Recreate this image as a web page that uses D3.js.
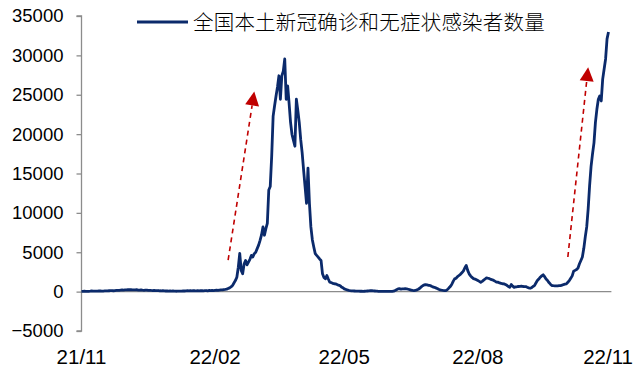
<!DOCTYPE html>
<html>
<head>
<meta charset="utf-8">
<script src="https://cdn.jsdelivr.net/npm/d3@7"></script>
<style>
  html, body { margin: 0; padding: 0; background: #fff; }
  svg { display: block; }
</style>
</head>
<body>
<svg id="chart" width="634" height="369"></svg>
<script>
// Daily local new infections (confirmed + asymptomatic), starting 2021-11-25
const startDate = "2021-11-25";
const dailyCases = [
  40, 35, 50, 30, 25, 45, 60, 80, 70, 55,
  60, 75, 90, 80, 65, 70, 85, 100, 95, 110,
  120, 130, 110, 140, 160, 150, 170, 190, 210, 200,
  230, 220, 250, 240, 260, 230, 210, 220, 240, 200,
  190, 210, 180, 170, 200, 190, 160, 170, 150, 140,
  160, 130, 120, 140, 110, 100, 120, 90, 80, 100,
  70, 90, 60, 80, 70, 50, 60, 75, 55, 70,
  90, 80, 100, 110, 90, 120, 100, 130, 110, 100,
  120, 90, 110, 130, 100, 120, 140, 110, 150, 130,
  160, 140, 170, 190, 160, 200, 230, 210, 250, 280,
  320, 400, 480, 600, 770, 1100, 1400, 1830, 3100, 4850,
  2700, 2260, 3500, 3960, 3400, 3750, 4100, 4600, 4400, 4820,
  5000, 5460, 5900, 6520, 7200, 8220, 7160, 8000, 8660, 12900,
  13340, 17180, 22290, 23600, 24850, 26000, 27410, 24430, 27410, 28000,
  29545, 24430, 26130, 23900, 21500, 19950, 19200, 18460, 24430, 23000,
  21450, 19300, 17610, 15400, 13340, 11220, 15690, 11220, 8220, 6600,
  5670, 4820, 4600, 4390, 4150, 3960, 2260, 1800, 1620, 2050,
  1600, 1190, 1150, 1050, 1000, 980, 900, 820, 770, 600,
  500, 350, 280, 220, 170, 130, 100, 90, 80, 70,
  60, 55, 50, 45, 40, 50, 60, 80, 100, 130,
  110, 90, 80, 70, 50, 40, 30, 25, 30, 20,
  35, 30, 25, 40, 30, 60, 150, 250, 350, 380,
  330, 360, 340, 370, 350, 300, 250, 200, 150, 130,
  150, 220, 300, 430, 600, 750, 850, 900, 870, 800,
  780, 700, 600, 550, 480, 400, 300, 220, 180, 150,
  130, 130, 250, 450, 640, 900, 1300, 1620, 1700, 1900,
  2050, 2200, 2400, 2600, 3000, 3330, 2700, 2260, 2000, 1800,
  1650, 1600, 1500, 1400, 1300, 1190, 1300, 1450, 1600, 1750,
  1700, 1650, 1550, 1500, 1400, 1300, 1200, 1190, 1100, 1050,
  1000, 980, 900, 800, 650, 550, 900, 700, 550, 600,
  620, 650, 680, 700, 650, 640, 640, 550, 480, 430,
  500, 650, 770, 1100, 1410, 1600, 1830, 2000, 2140, 1900,
  1600, 1410, 1150, 950, 770, 750, 740, 730, 730, 750,
  770, 820, 900, 950, 980, 1190, 1400, 1700, 2000, 2600,
  2700, 2800, 3000, 3540, 3960, 4390, 5500, 6950, 8220, 10500,
  13500, 15900, 17500, 18890, 21500, 23150, 24430, 24850, 24210, 26990,
  28270, 29545, 32100, 32960
];
const seriesName = "全国本土新冠确诊和无症状感染者数量";
const yTicks = [-5000, 0, 5000, 10000, 15000, 20000, 25000, 30000, 35000];
const xTickDates = ["2021-11-25", "2022-02-25", "2022-05-25", "2022-08-25", "2022-11-25"];
// Trend arrows: [start date, start value, end date, end value]
const trendArrows = [
  ["2022-03-06", 4000, "2022-03-24", 25400],
  ["2022-10-26", 4400, "2022-11-09", 28500]
];

const parse = d3.timeParse("%Y-%m-%d");
const t0 = parse(startDate);
const data = dailyCases.map((v, i) => ({ date: d3.timeDay.offset(t0, i), value: v }));

const W = 634;
const svg = d3.select("#chart");
const font = "'Liberation Sans', Arial, sans-serif";

const x = d3.scaleTime()
  .domain([t0, parse("2022-11-25")])
  .range([81.5, 611.4]);
const y = d3.scaleLinear()
  .domain([-5000, 35000])
  .range([331, 16]);

const axisColor = "#8c8c8c";

// y axis
const yAxis = svg.append("g")
  .attr("transform", "translate(81.5,0)")
  .call(d3.axisLeft(y).tickValues(yTicks).tickSize(5).tickPadding(13).tickFormat(d3.format("d")));
yAxis.select(".domain").attr("stroke", axisColor).attr("stroke-width", 1.3).attr("d", `M-5,${y(35000)}H0V${y(-5000)}H-5`);
yAxis.selectAll(".tick line").attr("stroke", axisColor).attr("stroke-width", 1.3);
yAxis.selectAll(".tick text")
  .attr("font-family", font).attr("font-size", 18.5).attr("fill", "#000");

// zero baseline
svg.append("line")
  .attr("x1", x.range()[0]).attr("x2", x.range()[1])
  .attr("y1", y(0)).attr("y2", y(0))
  .attr("stroke", axisColor).attr("stroke-width", 1.3);

// x labels along the bottom; the last one is kept inside the canvas
const fmt = d3.timeFormat("%y/%m");
svg.append("g").selectAll("text")
  .data(xTickDates.map(parse))
  .join("text")
  .attr("y", 364)
  .attr("text-anchor", "middle")
  .attr("font-family", font).attr("font-size", 20.5)
  .text(d => fmt(d))
  .attr("x", function (d) {
    const half = this.getComputedTextLength() / 2;
    return Math.min(x(d), W - 1 - half);
  });

// series line
const line = d3.line().x(d => x(d.date)).y(d => y(d.value));
svg.append("path")
  .datum(data)
  .attr("fill", "none")
  .attr("stroke", "#0b2a6b")
  .attr("stroke-width", 2.8)
  .attr("stroke-linejoin", "round")
  .attr("d", line);

// dashed trend arrows
const red = "#c00000";
trendArrows.forEach(a => {
  const x1 = x(parse(a[0])), y1 = y(a[1]);
  const x2 = x(parse(a[2])), y2 = y(a[3]);
  const ang = Math.atan2(y2 - y1, x2 - x1);
  const headLen = 14, headW = 7;
  const bx = x2 - headLen * Math.cos(ang), by = y2 - headLen * Math.sin(ang);
  svg.append("line")
    .attr("x1", x1).attr("y1", y1).attr("x2", bx).attr("y2", by)
    .attr("stroke", red).attr("stroke-width", 1.6)
    .attr("stroke-dasharray", "5,4");
  const px = -Math.sin(ang), py = Math.cos(ang);
  svg.append("path")
    .attr("d", `M${x2},${y2}L${bx + px * headW},${by + py * headW}L${bx - px * headW},${by - py * headW}Z`)
    .attr("fill", red);
});

// legend
const lg = svg.append("g");
lg.append("line")
  .attr("x1", 137).attr("x2", 188).attr("y1", 22).attr("y2", 22)
  .attr("stroke", "#0b2a6b").attr("stroke-width", 2.8);
lg.append("text")
  .attr("x", 193).attr("y", 29.5)
  .attr("font-family", "'Noto Sans CJK SC', sans-serif")
  .attr("font-size", 20.5)
  .attr("font-weight", 300)
  .attr("letter-spacing", 0.2)
  .attr("fill", "#000")
  .text(seriesName);
</script>
</body>
</html>
